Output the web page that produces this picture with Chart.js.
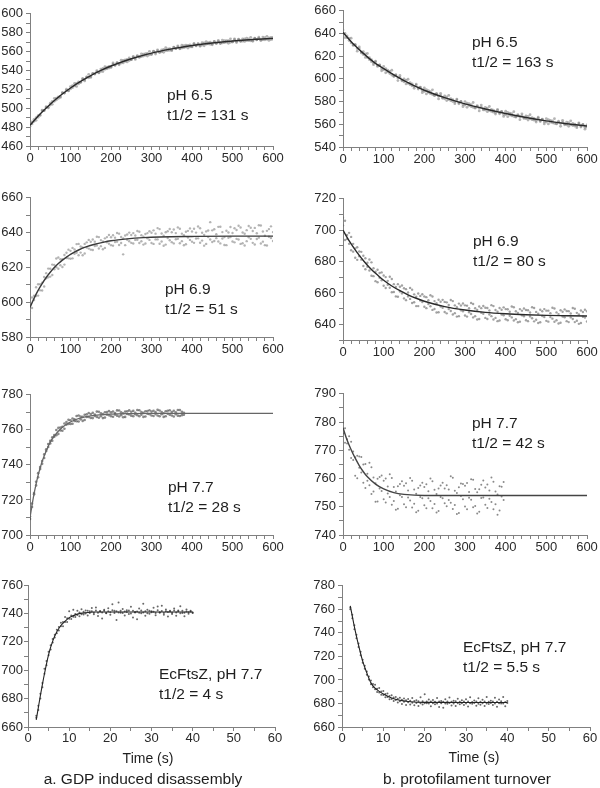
<!DOCTYPE html>
<html><head><meta charset="utf-8">
<script src="https://cdn.jsdelivr.net/npm/chart.js@4.4.1/dist/chart.umd.min.js"></script>
<style>
html,body{margin:0;padding:0;background:#fff;}
body{width:600px;height:788px;position:relative;overflow:hidden;font-family:"Liberation Sans",Arial,sans-serif;color:#1e1e1e;}
canvas{position:absolute;}
.note{position:absolute;font-size:15.5px;line-height:19.5px;white-space:nowrap;}
.lbl{position:absolute;white-space:nowrap;transform:translate(-50%,-50%);}
</style></head><body>
<script>
// ---------- time bases ----------
const TIME_LONG = [0,5,10,15,20,25,30,35,40,45,50,55,60,65,70,75,80,85,90,95,100,105,110,115,120,125,130,135,140,145,150,155,160,165,170,175,180,185,190,195,200,205,210,215,220,225,230,235,240,245,250,255,260,265,270,275,280,285,290,295,300,305,310,315,320,325,330,335,340,345,350,355,360,365,370,375,380,385,390,395,400,405,410,415,420,425,430,435,440,445,450,455,460,465,470,475,480,485,490,495,500,505,510,515,520,525,530,535,540,545,550,555,560,565,570,575,580,585,590,595,600];
const TIME_SHORT = [2,2.5,3,3.5,4,4.5,5,5.5,6,6.5,7,7.5,8,8.5,9,9.5,10,10.5,11,11.5,12,12.5,13,13.5,14,14.5,15,15.5,16,16.5,17,17.5,18,18.5,19,19.5,20,20.5,21,21.5,22,22.5,23,23.5,24,24.5,25,25.5,26,26.5,27,27.5,28,28.5,29,29.5,30,30.5,31,31.5,32,32.5,33,33.5,34,34.5,35,35.5,36,36.5,37,37.5,38,38.5,39,39.5,40];

// ---------- tick values ----------
const X_MAJOR_LONG = [0,100,200,300,400,500,600];
const X_MINOR_LONG = [20,40,60,80,120,140,160,180,220,240,260,280,320,340,360,380,420,440,460,480,520,540,560,580];
const X_MAJOR_SHORT = [0,10,20,30,40,50,60];
const X_MINOR_SHORT = [5,15,25,35,45,55];
const Y1_MAJOR = [460,480,500,520,540,560,580,600];
const Y2_MAJOR = [540,560,580,600,620,640,660];
const Y3_MAJOR = [580,600,620,640,660];
const Y4_MAJOR = [640,660,680,700,720];
const Y4_MINOR = [630,650,670,690,710];
const Y5_MAJOR = [700,720,740,760,780];
const Y6_MAJOR = [740,750,760,770,780,790];
const Y7_MAJOR = [660,680,700,720,740,760];
const Y8_MAJOR = [660,680,700,720,740,760,780];

// ---------- panel 1: GDP disassembly pH 6.5 ----------
const P1_DOTS_A = [484,483.4,488.3,487.2,492.1,492.4,498.0,497.6,501.7,500.3,505.3,504.1,510.4,508.8,512.1,511.4,516.5,516.1,520.2,518.3,522.9,521.8,526.2,523.1,528.0,527.4,531.6,528.9,533.1,535.9,532.6,536.7,536.3,539.8,537.4,541.5,538.9,543.9,541.8,544.3,543.2,548.0,545.3,548.2,546.0,550.8,548.0,551.2,549.0,553.2,551.4,555.0,551.7,555.8,554.5,557.6,555.2,557.7,555.3,560.3,556.9,560.4,557.4,561.9,559.3,561.8,559.2,564.1,561.1,563.0,560.9,564.8,563.2,566.1,562.9,566.8,564.1,566.9,563.8,567.1,564.9,568.7,566.0,568.3,565.6,569.4,566.1,570.4,568.1,569.9,567.1,570.8,568.5,571.8,568.5,572.2,569.4,571.6,568.8,573.5,570.2,573.4,569.5,573.2,571.3,573.5,570.7,574.3,571.5,575.1,570.8,573.9,572.5,575.2,571.8,575.4,572.5,576.1,571.8,574.9,575.0];
const P1_DOTS_B = [481,485.6,486.2,490,490.4,492.9,497.2,497.5,501,501.1,503.3,507.3,507.3,510.6,510.4,512.4,516.2,516,519,518.6,520.4,524,523.6,526.4,525.8,527.4,530.8,530.3,532.9,532.2,533.6,536.9,536.2,538.6,537.7,539,542.1,541.3,543.6,542.6,543.7,546.7,545.7,548,546.8,547.8,550.7,549.6,551.8,550.5,551.4,554.2,553.1,555.1,553.8,554.6,557.4,556.1,558.1,556.6,557.4,560.1,558.8,560.7,559.1,559.8,562.4,561,562.9,561.3,561.9,564.5,563.1,564.9,563.2,563.8,566.3,564.8,566.6,564.9,565.4,567.9,566.4,568.1,566.4,566.9,569.3,567.8,569.4,567.7,568.1,570.5,568.9,570.6,568.8,569.2,571.6,570,571.6,569.8,570.2,572.6,570.9,572.5,570.6,571,573.4,571.7,573.3,571.4,571.8,574.1,572.4,574,572.1,572.4,574.7,573,574.6,572.7,573];
const P1_FIT_T = [0,25,50,75,100,125,150,175,200,250,300,350,400,450,500,550,600];
const P1_FIT_Y = [482,493.9,504.3,513.4,521.4,528.4,534.6,540,544.7,552.4,558.4,562.9,566.4,569.1,571.2,572.8,574];

// ---------- panel 2: turnover pH 6.5 ----------
const P2_DOTS_A = [643,636.4,637.8,633.8,635.9,629.5,629.7,624.4,628.2,623.6,624.0,618.9,622.4,616.9,616.9,612.5,615.7,611.0,612.3,607.1,611,605.4,607.8,604.7,607.6,602.1,603.0,598.5,603.0,599.0,600.0,595.6,599.7,594.9,595.5,591.7,595.4,591.1,592.8,587.9,592,586.8,589.7,587,590.4,585.2,586.6,582.4,587.3,583.6,585,580.9,585.4,580.8,581.8,578.2,582.2,578.1,580.1,575.5,580,575,578.1,575.6,579.2,574.2,575.8,571.8,576.9,573.4,575,571.1,575.7,571.3,572.4,569,573.1,569.2,571.3,566.9,571.5,566.7,569.8,567.5,571.1,566.3,567.9,564.1,569.2,565.9,567.5,563.7,568.4,564.1,565.3,562,566.2,562.4,564.6,560.3,565,560.3,563.5,561.3,565,560.3,562,558.3,563.5,560.3,562,558.3,563.1,558.9,560.2,557,561.3,557.6,559.9,555.7,559.5];
const P2_DOTS_B = [640,640.1,636.2,635.6,631.7,630,630.4,626.8,626.5,622.9,621.5,622.1,618.8,618.7,615.2,614,614.9,611.9,612.1,608.9,608,609.1,606.2,606.5,603.4,602.6,603.7,600.9,601.3,598.3,597.5,598.8,596.1,596.7,593.8,593.2,594.6,592,592.6,589.7,589,590.5,588.1,588.8,586.2,585.7,587.3,584.8,585.6,582.9,582.5,584.1,581.8,582.6,580.1,579.7,581.4,579,579.9,577.3,577,578.7,576.5,577.4,575,574.7,576.5,574.2,575.2,572.7,572.5,574.3,572.1,573.1,570.7,570.5,572.3,570.1,571.1,568.7,568.5,570.4,568.2,569.3,566.9,566.8,568.6,566.5,567.5,565.2,565,566.9,564.8,565.9,563.6,563.5,565.4,563.3,564.4,562.1,562,564,561.9,563.1,560.8,560.8,562.7,560.7,561.8,559.6,559.5,561.5,559.5,560.7,558.5,558.5,560.5,558.5,559.7,557.5,557.5];
const P2_FIT_T = [0,25,50,75,100,150,200,250,300,350,400,450,500,550,600];
const P2_FIT_Y = [641,631,622.5,615,609,598.5,590,583.5,578,573.5,569.5,566,563,560.5,558.5];

// ---------- panel 3: GDP disassembly pH 6.9 ----------
const P3_DOTS_A = [599,596.7,603.7,603.6,610.3,606.8,611.2,609,616.7,614.3,619.2,615.6,621.4,620.1,625.7,621.2,624.7,621.6,628.4,625.2,629.5,625.2,630.3,628.4,633.5,628.5,631.5,628,634.4,630.8,634.7,630,634.8,632.6,637.4,632.2,634.9,631.2,637.4,633.6,637.3,632.5,637.1,634.8,639.4,634,636.7,632.8,638.9,635,638.6,633.7,638.3,635.9,640.5,635,637.6,633.7,639.7,635.8,639.9,633.5,639.4,636.1,642,634.9,638.2,633.1,640.8,635.6,640.2,633.8,639.7,636.4,642.2,635.1,638.5,633.3,641,635.8,640.6,634.1,640,636.7,642.5,635.4,638.7,633.5,641.2,636,641.3,635.2,639.1,634.9,643.4,636.6,637.4,632.8,640.1,637.5,639.8,634.4,641.5,636.0,642.9,633.9,639.3,635.1,643.8,636.4,640.9,633.2,639.6,637.1,644.1,634.8,638.2,632.6,642.0,636.9,640.3];
const P3_DOTS_B = [594.5,602.7,601.2,608.6,603.8,610.3,606.7,614.5,613.7,619.3,614.7,621.6,618.9,625.1,619.2,624.7,620.2,627.1,625.4,630.2,625,631.2,627.8,633.4,627,632,627,633.5,631.4,635.8,630.2,636,632.3,637.6,630.9,635.7,630.4,636.7,634.4,638.6,632.8,638.5,634.6,639.8,632.9,637.5,627.5,638.3,635.9,640,634.1,639.7,635.8,640.9,634,638.5,633.1,639.2,636.7,640.8,634.0,641.3,636.1,642.6,633.6,639.5,632.4,640.2,636.9,642.1,634.5,641.8,636.2,643.0,633.9,639.4,632.7,640.5,637.2,642.4,634.8,642.2,636.6,643.5,634.2,639.9,632.5,640.7,637.4,646.0,634.6,641.9,636.8,643.3,633.8,640.3,632.9,641.1,637.0,643.2,634.9,642.5,636.4,643.9,633.5,640.1,632.6,641.4,637.3,642.8,634.1,642.7,636.3,644.2,633.7,640.6,632.8,641.0,637.6,643.6,635.2];
const P3_FIT_T = [0,10,20,30,40,50,60,70,80,90,100,120,140,160,180,200,240,280,320,400,500,600];
const P3_FIT_Y = [597,602.2,606.8,610.7,614.2,617.2,619.9,622.2,624.2,625.9,627.5,630,631.9,633.3,634.4,635.3,636.4,637.1,637.5,637.8,638,638];

// ---------- panel 4: turnover pH 6.9 ----------
const P4_DOTS_A = [708,693.7,696.9,691.3,695.7,686.3,688.4,681.1,686.4,681.2,683.7,675.1,679.2,674.3,679.5,670.7,673.5,666.8,672.7,668.1,671.1,663.1,667.7,663.3,668.9,660.6,663.8,657.6,663.9,659.7,663,655.4,660.3,656.2,662.1,654.1,657.6,651.6,658.1,654.2,657.7,650.3,655.4,651.5,657.7,649.8,653.5,647.7,654.4,650.6,654.3,647,652.3,648.5,654.8,647.1,650.9,645.2,652,648.3,652.1,644.9,650.2,646.6,652.9,645.2,649.1,643.4,650.3,646.7,650.6,643.4,648.8,645.2,651.6,644.1,648,642.4,649.3,645.8,649.7,642.6,648,644.4,650.9,643.3,647.3,641.7,648.7,645.1,649.1,642,647.5,643.9,650.4,642.9,646.8,641.3,648.3,644.7,648.7,641.7,647.1,643.6,650.1,642.6,646.5,641,648,644.5,648.5,641.4,646.9,643.4,649.9,642.3,646.3,640.8,647.8,644.3,648.3];
const P4_DOTS_B = [703,706,694.4,698.3,687.2,691.3,682.4,689.1,683.4,686.2,677.2,682.1,676.7,681.3,671,675.7,667.5,674.8,669.7,673.1,664.6,670.1,665.2,670.3,660.4,665.6,657.8,665.6,660.9,664.7,656.5,662.4,657.8,663.2,653.6,659.1,651.6,659.6,655.1,659.2,651.2,657.3,652.9,658.5,649.2,654.8,647.5,655.7,651.4,655.6,647.8,654,649.8,655.5,646.3,652.1,644.9,653.2,649,653.3,645.6,651.9,647.7,653.6,644.4,650.2,643.1,651.4,647.3,651.7,644.1,650.4,646.3,652.2,643.1,649.1,642,650.4,646.3,650.8,643.2,649.6,645.5,651.4,642.4,648.3,641.3,649.7,645.7,650.1,642.6,649,645,650.9,641.9,647.9,640.8,649.3,645.3,649.7,642.2,648.7,644.6,650.6,641.6,647.6,640.5,649,645,649.5,642,648.4,644.4,650.4,641.4,647.3,640.3,648.8,644.8,649.3,641.8];
const P4_FIT_T = [0,10,20,30,40,50,60,70,80,90,100,120,140,160,180,200,250,300,350,400,450,500,550,600];
const P4_FIT_Y = [700,695.4,691.2,687.4,683.9,680.7,677.7,675,672.5,670.2,668.1,664.4,661.4,658.8,656.6,654.7,651.3,649.1,647.6,646.7,646.1,645.7,645.5,645.3];

// ---------- panel 5: GDP disassembly pH 7.7 (data to 380 s) ----------
const P5_DOTS_A = [710.7,716,723.9,728.3,735.3,737.6,742.2,743.9,748.9,750.2,753.7,753.8,757,756.9,761.1,759.7,761.8,760.6,764.5,763.4,765.5,763.5,766,764.9,768.2,766,767.4,765.6,768.9,767.3,769,766.7,768.8,767.4,770.3,767.8,769,767,770.2,768.4,770,767.5,769.6,768.1,771,768.4,769.5,767.4,770.6,768.8,770.3,767.8,769.8,768.3,771.2,768.6,769.7,767.6,770.7,768.9,770.4,767.9,770.1,768.2,771.0,768.9,769.5,767.8,770.9,768.6,770.2,767.6,770.0,768.1,771.3,768.4,769.8];
const P5_DOTS_B = [709.2,718,723.2,730.4,732.9,738.8,740.6,746,747.9,751.9,752.2,755.8,756.1,759.9,757.7,761.3,759.5,763.6,763,765.7,763.3,766.5,765.1,767.9,764.8,767.6,765.1,768.6,767.4,769.6,766.8,769.7,767.9,770.4,766.9,769.4,766.7,770,768.7,770.7,767.8,770.5,768.7,771.1,767.6,770,767.2,770.4,769.1,771.1,768.1,770.8,768.9,771.3,767.8,770.2,767.4,770.6,769.2,771.2,768.2,770.9,769.0,771.4,767.8,770.2,767.4,770.6,769.2,771.2,768.2,770.9,768.9,771.3,767.9,770.3,768.6];
const P5_FIT_T = [0,5,10,15,20,30,40,50,60,80,100,125,150,200,250,300,400,600];
const P5_FIT_Y = [710,717,723.5,729,734,742,748,753,756.5,761.5,764.5,766.8,768,769,769.3,769.4,769.4,769.4];

// ---------- panel 6: turnover pH 7.7 (data to 395 s) ----------
const P6_DOTS_A = [779.8,772.7,773.9,770.2,773,766.6,767.5,760.1,767.8,762.1,765,756.6,761.7,757.6,764,755.4,758.3,751.9,760.5,755.6,759.2,751.5,757.2,753.5,760.2,752,755.4,749.3,758.1,753.5,757.4,749.8,755.8,752.2,759.2,751.1,754.6,748.6,757.5,753,757,749.5,755.5,752,759,751,754.5,748.5,757.5,753,756.5,750.2,756.1,751.4,760.3,750.6,754.9,747.8,758.2,752.7,757.4,749.1,755.2,752.5,759.6,750.3,755.1,748.2,757.8,753.3,756.8,749.6,755.8,751.7,758.9,750.9,754.3,748.7,757.1,752.4];
const P6_DOTS_B = [775.9,777.8,772.4,775,767.3,769.6,761,768.1,763.8,767.6,758.5,765.1,759.2,765.6,754.5,760.4,751.8,759.9,756.5,761.1,752.7,760,754.7,761.5,750.7,757,748.9,757.3,754.1,759,750.9,758.3,753.3,760.2,749.7,756.1,748.1,756.6,753.5,758.5,750.5,758,753,760,749.5,756,748,756.5,753.5,758.5,751.2,757.6,752.4,760.8,749.2,755.7,747.4,756.9,753.8,758.1,750.1,758.4,753.2,759.7,749.8,756.3,747.6,756.2,753.1,759.3,750.7,757.9,752.8,760.4,749.1,755.4,747.2,757.3,753.6,758.8];
const P6_FIT_T = [0,10,20,30,40,50,60,80,100,125,150,200,600];
const P6_FIT_Y = [778,773.6,770.2,767.2,764.6,762.4,760.6,758,756.3,755,754.4,754,754];

// ---------- panel 7: EcFtsZ GDP disassembly ----------
const P7_DOTS_A = [668,675,683.5,688,701,703.5,713,714.5,722,723,728.5,728,733.5,731,737.5,734,741.5,736,742.5,737.5,741.8,738,743,739.2,742,738.5,741.6,743.8,739.4,744.2,738.1,741.3,736.4,742.5,740.2,743.7,739.1,746.5,741.8,735.3,747.6,740.4,743.1,738.6,742.2,739.5,744.6,737.2,741.0,735.8,743.5,740.1,746.8,738.4,742.6,739.8,741.5,743.9,738.7,744.8,740.6,745.3,739.1,742.7,737.9,741.9,739.6,743.4,738.3,742.1,745.0,740.3,738.0,742.8,739.7,741.4,740.2];
const P7_DOTS_B = [666.5,672,680,691,697.5,706.5,710.5,717.5,719.5,725,726,730.5,731,734,734,736.5,736.2,738.5,737.6,739.6,738.8,740.7,739.4,741.2,739.9,741.8,740.3,741.6,740.5,742.0,740.4,741.7,740.6,741.9,740.1,741.5,740.8,742.2,740.2,741.6,740.7,741.9,740.3,741.4,740.9,742.1,740.0,741.8,740.6,741.3,740.4,742.0,740.7,741.5,740.1,741.9,740.8,741.2,740.3,742.3,740.6,741.7,740.2,741.6,740.9,741.3,740.4,742.1,740.7,741.5,740.1,741.8,740.5,741.4,740.8,741.9,740.6];
const P7_FIT_T = [2,2.5,3,3.5,4,5,6,7,8,9,10,12,14,16,20,30,40];
const P7_FIT_Y = [665,673.5,682,690,697.5,711,720.5,727,731.5,734.5,737,739.5,740.5,741,741,741,741];

// ---------- panel 8: EcFtsZ turnover ----------
const P8_DOTS_A = [761.5,755.5,743,738.5,728,724,714.5,712,704.5,703,699.5,693.8,696,689.8,693.2,687.4,690.5,685.2,688.4,683.6,686.9,682.1,685.5,680.8,684.9,679.6,684.3,678.8,683.9,679.2,684.6,678.4,682.7,677.9,685.3,679.1,687.8,680.2,683.4,677.6,682.9,679.4,684.7,677.1,682.2,676.4,683.6,679.8,685.1,678.2,682.4,677.9,684.0,679.3,682.8,678.6,683.5,677.4,685.2,679.7,682.6,678.1,684.4,679.0,683.1,677.8,685.6,679.5,682.3,678.7,684.8,677.2,683.3,679.9,685.4,677.6,682.1];
const P8_DOTS_B = [760,752.5,746.5,735.5,731,721,717.2,709.5,707.2,700.3,696.4,696.5,692,692.6,689.4,690.2,687.1,688,685.4,686.3,683.9,685,682.9,684,681.9,683.2,681.4,682.7,681,682.4,680.6,682.1,680.4,681.9,680.2,681.8,680.1,681.7,680.0,681.6,680.1,681.5,679.9,681.7,680.2,681.4,680.0,681.6,680.3,681.5,679.9,681.8,680.1,681.4,680.2,681.6,679.9,681.7,680.1,681.3,680.4,681.6,679.8,681.5,680.2,681.7,680.0,681.4,680.3,681.6,679.9,681.5,680.2,681.8,680.0,681.3,680.4];
const P8_FIT_T = [2,2.5,3,3.5,4,5,6,7,8,9,10,12,14,16,20,30,40];
const P8_FIT_Y = [763,754,745,737,729.5,716,706,697.5,693,690.3,688,684.7,682.7,681.7,680.9,680.8,680.8];

// ---------- text ----------
const NOTES = [
  {x:167, y:95,  lines:['pH 6.5','t1/2 = 131 s']},
  {x:472, y:42,  lines:['pH 6.5','t1/2 = 163 s']},
  {x:165, y:289, lines:['pH 6.9','t1/2 = 51 s']},
  {x:473, y:241, lines:['pH 6.9','t1/2 = 80 s']},
  {x:168, y:487, lines:['pH 7.7','t1/2 = 28 s']},
  {x:472, y:423, lines:['pH 7.7','t1/2 = 42 s']},
  {x:159, y:674, lines:['EcFtsZ, pH 7.7','t1/2 = 4 s']},
  {x:463, y:647, lines:['EcFtsZ, pH 7.7','t1/2 = 5.5 s']}
];
const LABELS = [
  {x:148, y:758, size:14,   text:'Time (s)'},
  {x:474, y:757, size:14,   text:'Time (s)'},
  {x:143, y:779, size:15.5, text:'a. GDP induced disassembly'},
  {x:467, y:779, size:15.5, text:'b. protofilament turnover'}
];

// ---------- drawing ----------
Chart.defaults.font.family = '"Liberation Sans", Arial, sans-serif';
Chart.defaults.color = '#2a2a2a';

function zip(xs, ys){ return ys.map((y,i)=>({x:xs[i], y:y})); }

function axis(min, max, majors, minors, isX, p){
  const all = majors.concat(minors).sort((a,b)=>a-b);
  return {
    type:'linear', min:min, max:max,
    afterBuildTicks: s => { s.ticks = all.map(v=>({value:v})); },
    afterFit: s => { if (isX) s.height = p.xh; else s.width = p.yw; },
    ticks:{ autoSkip:false, maxRotation:0, minRotation:0, padding: isX ? p.xpad : p.ypad,
            font:{size:13}, color:'#2a2a2a',
            callback: v => majors.includes(v) ? String(v) : '' },
    grid:{ display:true, drawOnChartArea:false, drawTicks:true, tickLength:4, color:'#808080', lineWidth:1 },
    border:{ display:true, color:'#808080', width:1 }
  };
}

function panel(p){
  const c = document.createElement('canvas');
  c.width = p.cw; c.height = p.ch;
  c.style.left = p.cx+'px'; c.style.top = p.cy+'px';
  c.style.width = p.cw+'px'; c.style.height = p.ch+'px';
  document.body.appendChild(c);
  const datasets = [{
    data: zip(p.fitT, p.fitY), showLine:true, pointRadius:0, borderColor:p.lineColor,
    borderWidth:p.lineWidth, tension:0.4, cubicInterpolationMode:'monotone', fill:false
  }];
  p.dots.forEach(d => datasets.push({
    data: zip(p.times, d), showLine:false, pointRadius:p.r, pointBorderWidth:0,
    backgroundColor:p.dotColor, borderColor:p.dotColor
  }));
  new Chart(c, {
    type:'scatter',
    data:{datasets:datasets},
    options:{
      responsive:false, animation:false, devicePixelRatio:1,
      events:[],
      layout:{padding:{top:p.pt, right:p.pr, bottom:0, left:0}},
      plugins:{legend:{display:false}, tooltip:{enabled:false}},
      scales:{
        x: axis(p.xmin, p.xmax, p.xMajor, p.xMinor, true, p),
        y: axis(p.ymin, p.ymax, p.yMajor, p.yMinor, false, p)
      }
    }
  });
}

const L = {xh:24, xpad:1, ypad:3};
const halfs = (arr, step) => arr.slice(0,-1).map(v=>v+step/2);

panel(Object.assign({}, L, {cx:0, cy:3, cw:300, ch:167, pt:10, pr:27, yw:30,
  xmin:0, xmax:600, xMajor:X_MAJOR_LONG, xMinor:X_MINOR_LONG,
  ymin:460, ymax:600, yMajor:Y1_MAJOR, yMinor:halfs(Y1_MAJOR,20),
  times:TIME_LONG, dots:[P1_DOTS_A, P1_DOTS_B], fitT:P1_FIT_T, fitY:P1_FIT_Y,
  dotColor:'rgba(120,120,120,0.55)', r:1.4, lineColor:'#2a2a2a', lineWidth:1.4}));

panel(Object.assign({}, L, {cx:300, cy:0, cw:300, ch:171, pt:7, pr:13, yw:43,
  xmin:0, xmax:600, xMajor:X_MAJOR_LONG, xMinor:X_MINOR_LONG,
  ymin:540, ymax:660, yMajor:Y2_MAJOR, yMinor:halfs(Y2_MAJOR,20),
  times:TIME_LONG, dots:[P2_DOTS_A, P2_DOTS_B], fitT:P2_FIT_T, fitY:P2_FIT_Y,
  dotColor:'rgba(120,120,120,0.55)', r:1.4, lineColor:'#2a2a2a', lineWidth:1.4}));

panel(Object.assign({}, L, {cx:0, cy:187, cw:300, ch:174, pt:10, pr:27, yw:30,
  xmin:0, xmax:600, xMajor:X_MAJOR_LONG, xMinor:X_MINOR_LONG,
  ymin:580, ymax:660, yMajor:Y3_MAJOR, yMinor:halfs(Y3_MAJOR,20),
  times:TIME_LONG, dots:[P3_DOTS_A, P3_DOTS_B], fitT:P3_FIT_T, fitY:P3_FIT_Y,
  dotColor:'rgba(130,130,130,0.6)', r:1.2, lineColor:'#3a3a3a', lineWidth:1.4}));

panel(Object.assign({}, L, {cx:300, cy:188, cw:300, ch:176, pt:10, pr:13, yw:43,
  xmin:0, xmax:600, xMajor:X_MAJOR_LONG, xMinor:X_MINOR_LONG,
  ymin:630, ymax:720, yMajor:Y4_MAJOR, yMinor:Y4_MINOR,
  times:TIME_LONG, dots:[P4_DOTS_A, P4_DOTS_B], fitT:P4_FIT_T, fitY:P4_FIT_Y,
  dotColor:'rgba(100,100,100,0.6)', r:1.2, lineColor:'#2a2a2a', lineWidth:1.4}));

panel(Object.assign({}, L, {cx:0, cy:384, cw:300, ch:175, pt:10, pr:27, yw:30,
  xmin:0, xmax:600, xMajor:X_MAJOR_LONG, xMinor:X_MINOR_LONG,
  ymin:700, ymax:780, yMajor:Y5_MAJOR, yMinor:halfs(Y5_MAJOR,20),
  times:TIME_LONG, dots:[P5_DOTS_A, P5_DOTS_B], fitT:P5_FIT_T, fitY:P5_FIT_Y,
  dotColor:'rgba(60,60,60,0.6)', r:1.3, lineColor:'#666', lineWidth:1.3}));

panel(Object.assign({}, L, {cx:300, cy:383, cw:300, ch:176, pt:10, pr:13, yw:43,
  xmin:0, xmax:600, xMajor:X_MAJOR_LONG, xMinor:X_MINOR_LONG,
  ymin:740, ymax:790, yMajor:Y6_MAJOR, yMinor:halfs(Y6_MAJOR,10),
  times:TIME_LONG, dots:[P6_DOTS_A, P6_DOTS_B], fitT:P6_FIT_T, fitY:P6_FIT_Y,
  dotColor:'rgba(60,60,60,0.6)', r:1.0, lineColor:'#444', lineWidth:1.4}));

panel(Object.assign({}, L, {cx:0, cy:575, cw:300, ch:176, pt:10, pr:25, yw:28, ypad:1, xpad:0,
  xmin:0, xmax:60, xMajor:X_MAJOR_SHORT, xMinor:X_MINOR_SHORT,
  ymin:660, ymax:760, yMajor:Y7_MAJOR, yMinor:halfs(Y7_MAJOR,20),
  times:TIME_SHORT, dots:[P7_DOTS_A, P7_DOTS_B], fitT:P7_FIT_T, fitY:P7_FIT_Y,
  dotColor:'rgba(40,40,40,0.7)', r:1.0, lineColor:'#222', lineWidth:1.1}));

panel(Object.assign({}, L, {cx:300, cy:575, cw:300, ch:176, pt:10, pr:10, yw:42, xpad:0,
  xmin:0, xmax:60, xMajor:X_MAJOR_SHORT, xMinor:X_MINOR_SHORT,
  ymin:660, ymax:780, yMajor:Y8_MAJOR, yMinor:halfs(Y8_MAJOR,20),
  times:TIME_SHORT, dots:[P8_DOTS_A, P8_DOTS_B], fitT:P8_FIT_T, fitY:P8_FIT_Y,
  dotColor:'rgba(40,40,40,0.7)', r:1.0, lineColor:'#222', lineWidth:1.1}));

NOTES.forEach(n => {
  const d = document.createElement('div');
  d.className = 'note';
  d.style.left = n.x+'px'; d.style.top = (n.y-9.75)+'px';
  d.innerHTML = n.lines.map(s=>'<div>'+s+'</div>').join('');
  document.body.appendChild(d);
});
LABELS.forEach(l => {
  const d = document.createElement('div');
  d.className = 'lbl';
  d.style.left = l.x+'px'; d.style.top = l.y+'px'; d.style.fontSize = l.size+'px';
  d.textContent = l.text;
  document.body.appendChild(d);
});
</script>
</body></html>
